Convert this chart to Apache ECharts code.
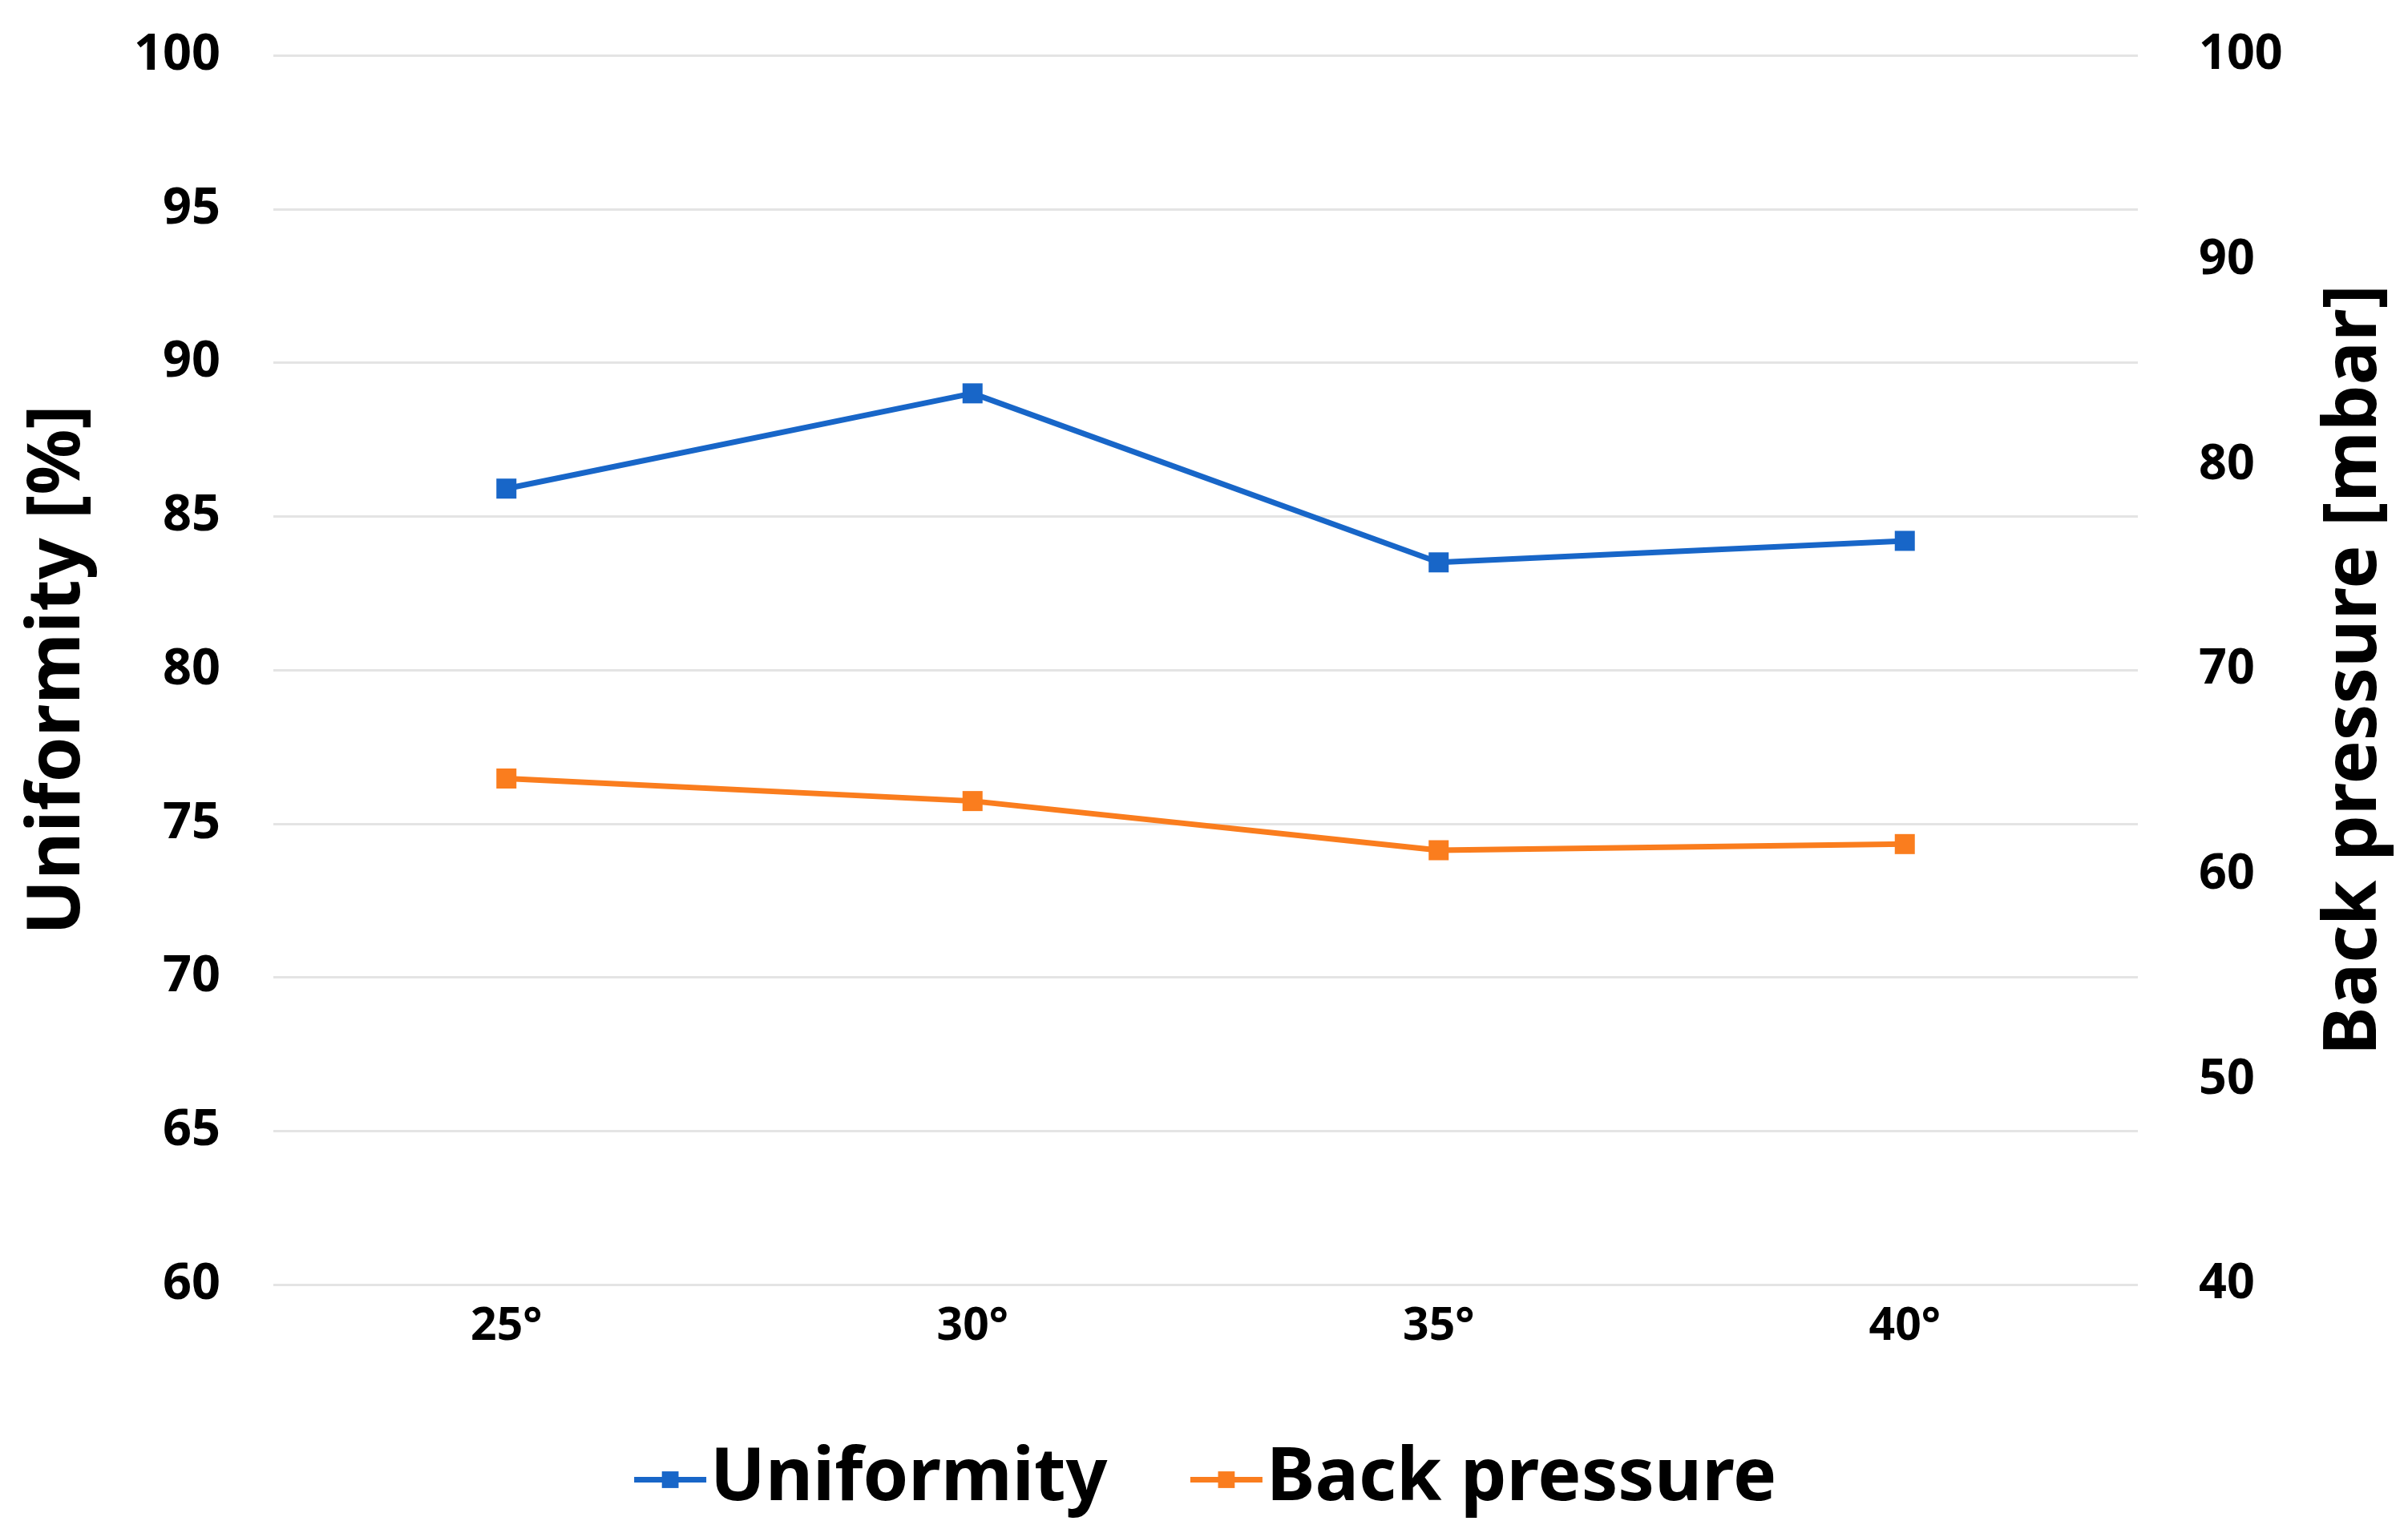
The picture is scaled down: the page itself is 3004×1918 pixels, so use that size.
<!DOCTYPE html>
<html>
<head>
<meta charset="utf-8">
<script src="https://cdn.jsdelivr.net/npm/echarts@6/dist/echarts.min.js"></script>
<style>
html,body{margin:0;padding:0;background:#fff;}
#chart{width:3004px;height:1918px;}
</style>
</head>
<body>
<div id="chart"></div>
<script>
const categories = ['25°', '30°', '35°', '40°'];
const uniformity = [85.9, 89.0, 83.5, 84.2];
const backPressure = [64.7, 63.6, 61.2, 61.5];
const leftTicks = { min: 60, max: 100, interval: 5 };
const rightTicks = { min: 40, max: 100, interval: 10 };

const FONT = '"Noto Sans", "DejaVu Sans", sans-serif';
const BLUE = '#1866C8';
const ORANGE = '#FA7D1E';

const chart = echarts.init(document.getElementById('chart'), null, { renderer: 'canvas' });
chart.setOption({
  backgroundColor: '#ffffff',
  animation: false,
  textStyle: { fontFamily: FONT },
  grid: { left: 341, right: 337, top: 69, bottom: 315, containLabel: false },
  legend: {
    left: 'center',
    top: 1796,
    itemWidth: 90,
    itemHeight: 26,
    itemGap: 100,
    lineStyle: { width: 7 },
    textStyle: { fontFamily: FONT, fontWeight: 'bold', fontSize: 91, color: '#000' },
    data: ['Uniformity', 'Back pressure']
  },
  xAxis: {
    type: 'category',
    data: categories,
    boundaryGap: true,
    axisLine: { show: false },
    axisTick: { show: false },
    axisLabel: { fontFamily: FONT, fontWeight: 'bold', fontSize: 57, color: '#000', margin: 24 }
  },
  yAxis: [
    {
      type: 'value',
      position: 'left',
      min: leftTicks.min, max: leftTicks.max, interval: leftTicks.interval,
      name: 'Uniformity [%]',
      nameLocation: 'middle',
      nameRotate: 90,
      nameGap: 222,
      nameTextStyle: { fontFamily: FONT, fontWeight: 'bold', fontSize: 91, color: '#000' },
      axisLine: { show: false },
      axisTick: { show: false },
      axisLabel: { fontFamily: FONT, fontWeight: 'bold', fontSize: 63, color: '#000', margin: 66 },
      splitLine: { show: true, lineStyle: { color: '#E4E4E4', width: 3 } }
    },
    {
      type: 'value',
      position: 'right',
      min: rightTicks.min, max: rightTicks.max, interval: rightTicks.interval,
      name: 'Back pressure [mbar]',
      nameLocation: 'middle',
      nameRotate: 90,
      nameGap: 226,
      nameTextStyle: { fontFamily: FONT, fontWeight: 'bold', fontSize: 91, color: '#000' },
      axisLine: { show: false },
      axisTick: { show: false },
      axisLabel: { fontFamily: FONT, fontWeight: 'bold', fontSize: 61, color: '#000', margin: 76 },
      splitLine: { show: false }
    }
  ],
  series: [
    {
      name: 'Uniformity',
      type: 'line',
      yAxisIndex: 0,
      data: uniformity,
      symbol: 'rect',
      symbolSize: 25,
      itemStyle: { color: BLUE },
      lineStyle: { color: BLUE, width: 7 }
    },
    {
      name: 'Back pressure',
      type: 'line',
      yAxisIndex: 1,
      data: backPressure,
      symbol: 'rect',
      symbolSize: 25,
      itemStyle: { color: ORANGE },
      lineStyle: { color: ORANGE, width: 7 }
    }
  ]
});
</script>
</body>
</html>
